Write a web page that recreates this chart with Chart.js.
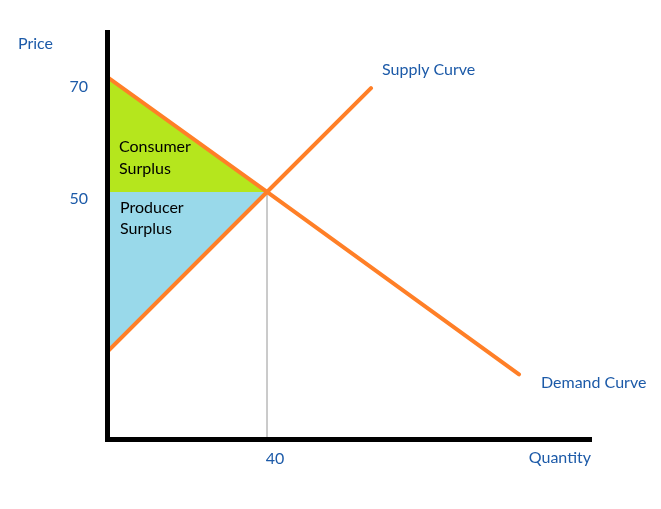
<!DOCTYPE html>
<html>
<head>
<meta charset="utf-8">
<script src="https://cdn.jsdelivr.net/npm/chart.js@4.4.1/dist/chart.umd.min.js"></script>
<style>
  html, body { margin: 0; padding: 0; background: #fff; }
  #wrap { width: 661px; height: 509px; }
</style>
</head>
<body>
<div id="wrap"><canvas id="myChart"></canvas></div>
<script>
// supply & demand
const supplyQ = [0, 40, 66];
const supplyP = [21.5, 50, 68.5];
const demandQ = [0, 40, 103];
const demandP = [70.5, 50, 17.5];
const equilibrium = [40, 50];
const priceTicks = [70, 50];
const quantityTicks = [40];

const orange = '#ff7f27';
const blueText = '#1c5aa8';
const font = 'Lato, "Open Sans", sans-serif';

const toPts = (xs, ys) => xs.map((x, i) => ({ x: x, y: ys[i] }));

const ctx = document.getElementById('myChart');

// text notes next to the curves and in the two areas
const notes = {
    id: 'notes',
    afterDraw(chart) {
        const c = chart.ctx;
        const xs = chart.scales.x, ys = chart.scales.y;
        const px = v => xs.getPixelForValue(v);
        const py = v => ys.getPixelForValue(v);
        c.save();
        c.font = '16px ' + font;
        c.textBaseline = 'middle';
        c.textAlign = 'left';
        c.fillStyle = blueText;
        c.fillText('Price', 18, 44);
        c.fillText('Supply Curve', px(supplyQ[2]) + 11, py(supplyP[2]) - 18);
        c.fillText('Demand Curve', px(demandQ[2]) + 22, py(demandP[2]) + 8);
        c.textAlign = 'right';
        c.fillText('Quantity', chart.chartArea.right, 458);
        c.textAlign = 'left';
        c.fillStyle = '#000';
        const x0 = px(0) + 12;
        const yEq = py(equilibrium[1]);
        c.fillText('Consumer', x0, yEq - 45);
        c.fillText('Surplus', x0, yEq - 23);
        c.fillText('Producer', x0 + 1, yEq + 16);
        c.fillText('Surplus', x0 + 1, yEq + 37);
        c.restore();
    }
};

new Chart(ctx, {
    type: 'line',
    data: {
        datasets: [
            {
                // consumer surplus
                data: toPts(demandQ.slice(0, 2), demandP.slice(0, 2)),
                borderWidth: 0,
                pointRadius: 0,
                backgroundColor: '#b5e61d',
                fill: { value: equilibrium[1] },
                order: 5
            },
            {
                // producer surplus
                data: toPts(supplyQ.slice(0, 2), supplyP.slice(0, 2)),
                borderWidth: 0,
                pointRadius: 0,
                backgroundColor: '#99d9ea',
                fill: { value: equilibrium[1] },
                order: 4
            },
            {
                data: toPts([equilibrium[0], equilibrium[0]], [equilibrium[1], 0]),
                borderColor: '#c3c3c3',
                borderWidth: 1,
                pointRadius: 0,
                order: 3
            },
            {
                label: 'Supply Curve',
                data: toPts(supplyQ, supplyP),
                borderColor: orange,
                borderWidth: 4,
                pointRadius: 0,
                borderCapStyle: 'round',
                order: 2
            },
            {
                label: 'Demand Curve',
                data: toPts(demandQ, demandP),
                borderColor: orange,
                borderWidth: 4,
                pointRadius: 0,
                borderCapStyle: 'round',
                order: 1
            }
        ]
    },
    options: {
        responsive: true,
        maintainAspectRatio: false,
        animation: false,
        layout: { padding: { top: 32, right: 70, left: 0, bottom: 0 } },
        plugins: {
            legend: { display: false },
            tooltip: { enabled: false }
        },
        scales: {
            x: {
                type: 'linear',
                min: 0,
                max: 121,
                afterFit: s => { s.height = 70; },
                afterBuildTicks: s => { s.ticks = quantityTicks.map(v => ({ value: v })); },
                grid: { display: false },
                border: { color: '#000', width: 5, z: 1 },
                ticks: {
                    color: blueText,
                    font: { family: font, size: 16 },
                    padding: 2,
                    labelOffset: 8
                }
            },
            y: {
                type: 'linear',
                min: 6,
                max: 78.5,
                afterFit: s => { s.width = 107; },
                afterBuildTicks: s => { s.ticks = priceTicks.map(v => ({ value: v })); },
                grid: { display: false },
                border: { color: '#000', width: 5, z: 1 },
                ticks: {
                    color: blueText,
                    font: { family: font, size: 16 },
                    padding: 11,
                    labelOffset: 7
                }
            }
        }
    },
    plugins: [notes]
});
</script>
</body>
</html>
